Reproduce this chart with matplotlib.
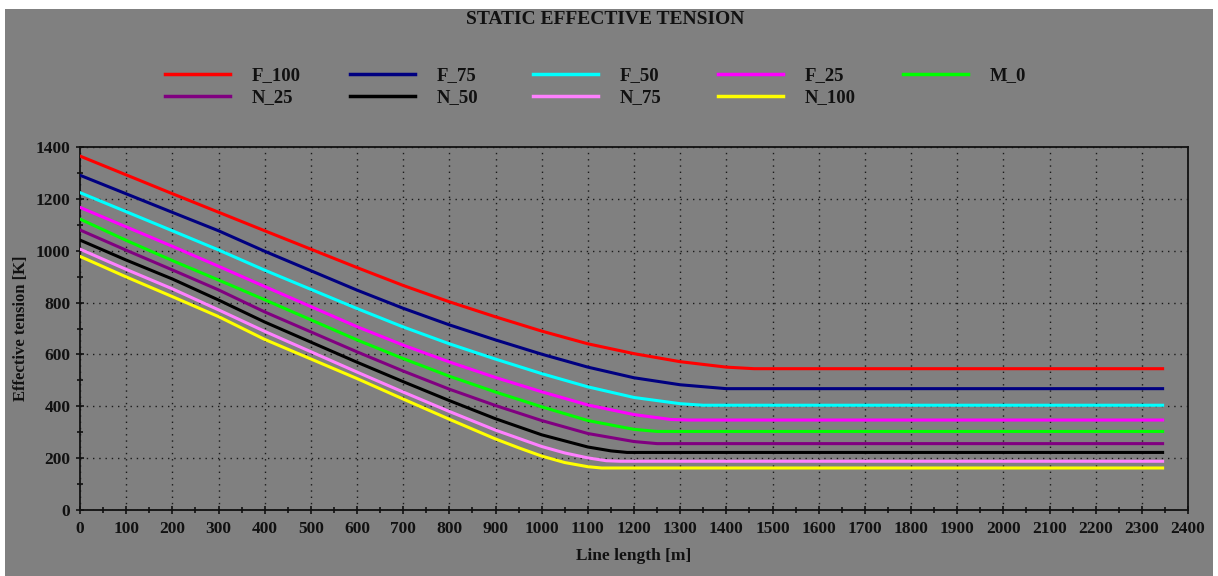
import matplotlib
matplotlib.use("Agg")
import matplotlib.pyplot as plt
from matplotlib.lines import Line2D
from matplotlib.patches import Rectangle
from matplotlib.ticker import MultipleLocator

# Line length [m] / effective tension [K]
f100_x = [0, 200, 400, 600, 700, 800, 900, 1000, 1100, 1200, 1300, 1400, 1460, 2345]
f100_y = [1365, 1220, 1077, 935, 866, 803, 745, 690, 641, 603, 572, 551, 545, 545]

f75_x = [0, 200, 300, 400, 600, 700, 800, 900, 1000, 1100, 1200, 1300, 1400, 2345]
f75_y = [1291, 1148, 1077, 998, 848, 778, 714, 656, 601, 551, 510, 483, 468, 468]

f50_x = [0, 200, 300, 400, 600, 700, 800, 900, 1000, 1100, 1200, 1300, 1350, 2345]
f50_y = [1224, 1077, 1003, 925, 777, 706, 641, 582, 526, 475, 434, 410, 404, 404]

f25_x = [0, 100, 200, 300, 400, 600, 700, 800, 900, 1000, 1100, 1200, 1280, 1320, 2345]
f25_y = [1167, 1092, 1017, 940, 862, 707, 636, 571, 511, 456, 405, 368, 349, 347, 347]

m0_x = [0, 100, 200, 300, 400, 600, 700, 800, 900, 1000, 1100, 1200, 1250, 2345]
m0_y = [1122, 1040, 962, 887, 811, 656, 584, 516, 455, 398, 345, 311, 303, 303]

n25_x = [0, 100, 200, 300, 400, 600, 700, 800, 900, 1000, 1100, 1200, 1250, 2345]
n25_y = [1080, 1002, 926, 849, 764, 610, 536, 466, 403, 345, 295, 264, 256, 256]

n50_x = [0, 100, 200, 300, 400, 600, 700, 800, 900, 1000, 1100, 1150, 1185, 2345]
n50_y = [1041, 964, 891, 810, 725, 570, 495, 422, 352, 290, 243, 228, 222, 222]

n75_x = [0, 100, 200, 300, 400, 600, 700, 800, 900, 1000, 1050, 1100, 1140, 1170, 2345]
n75_y = [1006, 928, 853, 772, 689, 532, 455, 380, 308, 245, 220, 201, 190, 188, 188]

n100_x = [0, 100, 200, 300, 400, 600, 700, 800, 900, 950, 1000, 1050, 1100, 1130, 2345]
n100_y = [978, 899, 823, 746, 658, 507, 428, 350, 274, 240, 208, 183, 167, 162, 162]

series = [
    ("F_100", f100_x, f100_y, "#ff0000"),
    ("F_75", f75_x, f75_y, "#000080"),
    ("F_50", f50_x, f50_y, "#00ffff"),
    ("F_25", f25_x, f25_y, "#ff00ff"),
    ("M_0", m0_x, m0_y, "#00ff00"),
    ("N_25", n25_x, n25_y, "#800080"),
    ("N_50", n50_x, n50_y, "#000000"),
    ("N_75", n75_x, n75_y, "#ff80ff"),
    ("N_100", n100_x, n100_y, "#ffff00"),
]

W, H = 1218, 576
fig = plt.figure(figsize=(W / 100, H / 100), dpi=100)
fig.patch.set_facecolor("white")
fig.add_artist(Rectangle((5 / W, 0), 1208 / W, 567 / H, transform=fig.transFigure,
                         facecolor="#808080", edgecolor="none", zorder=-10))

ax = fig.add_axes([80 / W, 1 - 510 / H, 1108 / W, 363 / H])
ax.set_facecolor("#808080")

handles = {}
for name, xs, ys, col in series:
    ax.plot(xs, ys, color=col, lw=2.2, solid_joinstyle="round", zorder=3)
    handles[name] = Line2D([], [], color=col, lw=2.5)

ax.set_xlim(0, 2400)
ax.set_ylim(0, 1400)
ax.xaxis.set_major_locator(MultipleLocator(100))
ax.xaxis.set_minor_locator(MultipleLocator(50))
ax.yaxis.set_major_locator(MultipleLocator(200))
ax.yaxis.set_minor_locator(MultipleLocator(100))
ax.grid(True, which="major", color="#1a1a1a", linestyle=(0, (1, 3.5)), lw=1)

for s in ax.spines.values():
    s.set_color("#111111")
    s.set_linewidth(1.3)

font = dict(family="Liberation Serif", weight="bold")
ax.tick_params(which="major", direction="inout", length=6, width=1.2,
               colors="#111111", labelsize=12.5, pad=4)
ax.tick_params(which="minor", direction="inout", length=5, width=1.2, colors="#111111")
ax.tick_params(axis="x", which="major", pad=5)
for lab in ax.get_xticklabels() + ax.get_yticklabels():
    lab.set_fontfamily("Liberation Serif")
    lab.set_fontweight("bold")

ax.set_xlabel("Line length [m]", fontsize=12.5, labelpad=8, color="#111111", **font)
ax.set_ylabel("Effective tension [K]", fontsize=12, labelpad=5, color="#111111", **font)

fig.text(605 / W, 1 - 20 / H, "STATIC EFFECTIVE TENSION", ha="center", va="center",
         fontsize=14, color="#111111", **font)

# legend, one column at a time
columns = [["F_100", "N_25"], ["F_75", "N_50"], ["F_50", "N_75"], ["F_25", "N_100"], ["M_0"]]
col_x = [165, 350, 533, 718, 903]
for names, cx in zip(columns, col_x):
    leg = fig.legend([handles[n] for n in names], names, loc="upper left",
                     bbox_to_anchor=(cx / W, 1 - 67 / H), frameon=False,
                     borderpad=0, borderaxespad=0, handlelength=3.45, handletextpad=1.2,
                     labelspacing=0.28, prop={"family": "Liberation Serif", "weight": "bold", "size": 13.5})
    for t in leg.get_texts():
        t.set_color("#111111")

fig.savefig("out.png", dpi=100, facecolor=fig.get_facecolor())
